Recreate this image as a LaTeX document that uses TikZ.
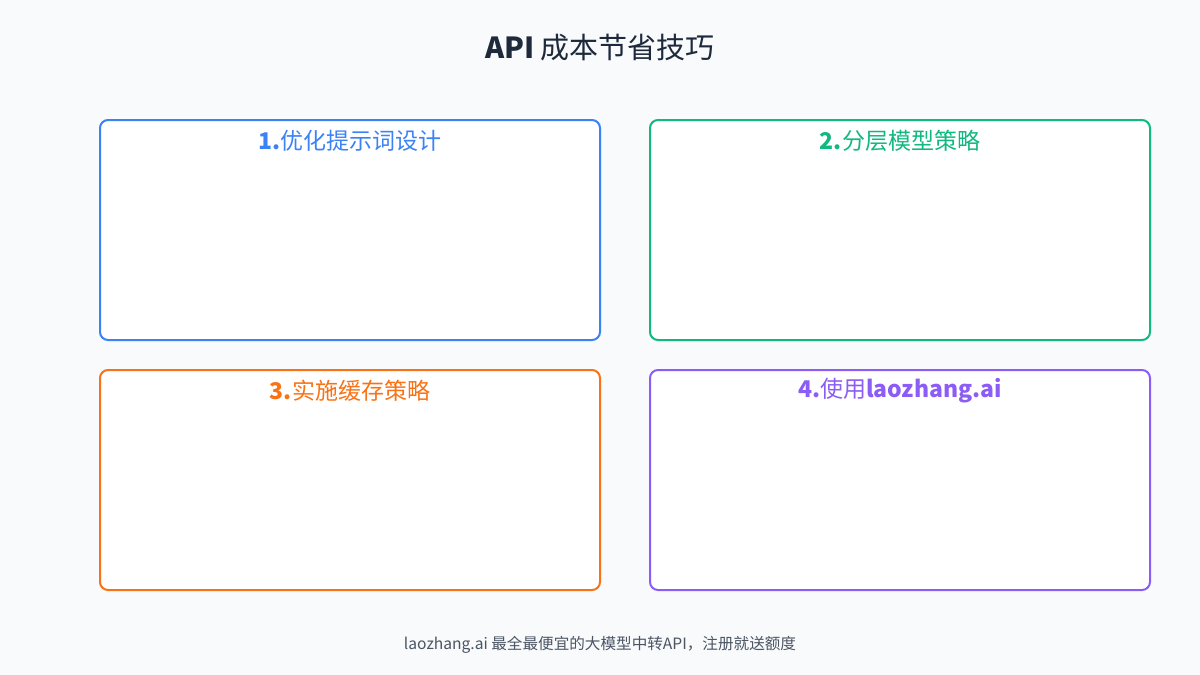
\documentclass[tikz,border=0pt]{standalone}
\usepackage{fontspec}
\setmainfont{Noto Sans CJK SC}
\usetikzlibrary{positioning}
\definecolor{bgc}{HTML}{F8FAFC}
\definecolor{titc}{HTML}{1E293B}
\definecolor{footc}{HTML}{4B5563}
\definecolor{c1}{HTML}{3B82F6}
\definecolor{c2}{HTML}{10B981}
\definecolor{c3}{HTML}{F97316}
\definecolor{c4}{HTML}{8B5CF6}
\begin{document}
\begin{tikzpicture}[
    x=0.5pt, y=-0.5pt,
    card/.style={draw=#1, line width=1pt, fill=white, rounded corners=4pt},
    head/.style={text=#1, font=\fontsize{11.5}{13}\selectfont, anchor=center},
  ]
    \fill[bgc] (0,0) rectangle (1200,675);
    \useasboundingbox (0,0) rectangle (1200,675);

    \node[text=titc, font=\fontsize{14.5}{16}\selectfont] (title) at (600,48) {\textbf{API} 成本节省技巧};

    \draw[card=c1] (100,120) rectangle (600,340);
    \draw[card=c2] (650,120) rectangle (1150,340);
    \draw[card=c3] (100,370) rectangle (600,590);
    \draw[card=c4] (650,370) rectangle (1150,590);

    \node[head=c1] (h1) at (350,141) {\textbf{1.}优化提示词设计};
    \node[head=c2] (h2) at (900,141) {\textbf{2.}分层模型策略};
    \node[head=c3] (h3) at (350,391) {\textbf{3.}实施缓存策略};
    \node[head=c4] (h4) at (900,391) {\textbf{4.}使用\textbf{laozhang.ai}};

    \node[text=footc, font=\fontsize{7.8}{9}\selectfont] (foot) at (600,645) {laozhang.ai 最全最便宜的大模型中转API，注册就送额度};
  \end{tikzpicture}
\end{document}
